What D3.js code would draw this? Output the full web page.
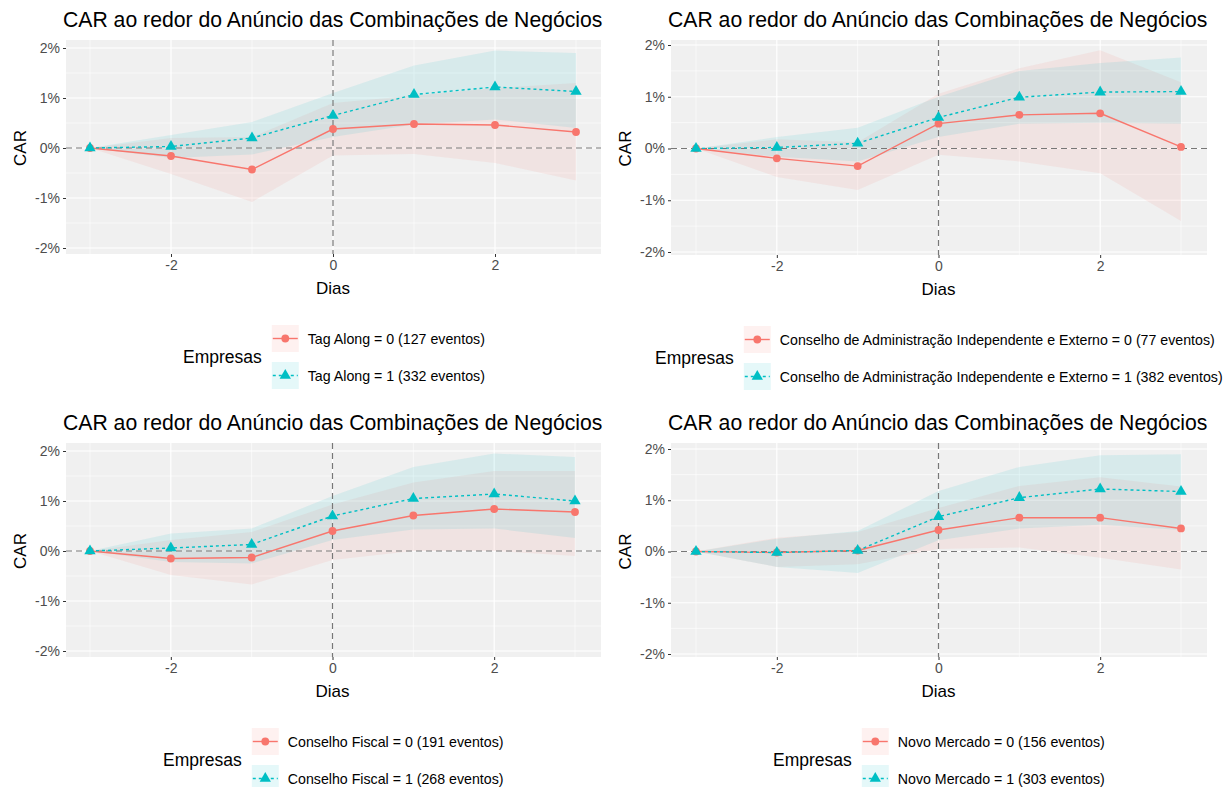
<!DOCTYPE html>
<html lang="pt">
<head>
<meta charset="UTF-8">
<title>CAR ao redor do Anúncio das Combinações de Negócios</title>
<script src="https://cdnjs.cloudflare.com/ajax/libs/d3/7.8.5/d3.min.js"></script>
<style>
  body { margin: 0; background: #fff; }
  svg { display: block; font-family: "Liberation Sans", Arial, sans-serif; }
</style>
</head>
<body>
<svg id="chart" width="1226" height="787"></svg>
<script>
// dias relativos ao anúncio
const days = [-3, -2, -1, 0, 1, 2, 3];
const xTicks = [-2, 0, 2];
const xMinor = [-3, -1, 1, 3];
const yTicks = [-0.02, -0.01, 0, 0.01, 0.02];
const yMinor = [-0.015, -0.005, 0.005, 0.015];
const chartTitle = "CAR ao redor do Anúncio das Combinações de Negócios";
const legendTitle = "Empresas";

// Tag Along
const tagCar0 = [0, -0.0016, -0.0043, 0.0038, 0.0048, 0.0046, 0.0032];
const tagLo0  = [0, -0.0052, -0.0108, -0.0015, -0.0012, -0.0030, -0.0065];
const tagHi0  = [0, 0.0020, 0.0022, 0.0090, 0.0105, 0.0120, 0.0130];
const tagCar1 = [0, 0.0003, 0.0020, 0.0065, 0.0107, 0.0122, 0.0113];
const tagLo1  = [0, -0.0020, -0.0013, 0.0022, 0.0047, 0.0057, 0.0040];
const tagHi1  = [0, 0.0026, 0.0052, 0.0110, 0.0165, 0.0195, 0.0190];

// Conselho de Administração Independente e Externo
const admCar0 = [0, -0.0019, -0.0034, 0.0048, 0.0065, 0.0068, 0.0003];
const admLo0  = [0, -0.0055, -0.0080, -0.0012, -0.0025, -0.0048, -0.0140];
const admHi0  = [0, 0.0018, 0.0012, 0.0106, 0.0155, 0.0190, 0.0128];
const admCar1 = [0, 0.0002, 0.0010, 0.0060, 0.0099, 0.0109, 0.0110];
const admLo1  = [0, -0.0016, -0.0025, 0.0022, 0.0048, 0.0050, 0.0048];
const admHi1  = [0, 0.0022, 0.0040, 0.0100, 0.0150, 0.0165, 0.0176];

// Conselho Fiscal
const fisCar0 = [0, -0.0015, -0.0013, 0.0040, 0.0071, 0.0084, 0.0078];
const fisLo0  = [0, -0.0048, -0.0067, -0.0018, 0.0000, 0.0000, -0.0010];
const fisHi0  = [0, 0.0022, 0.0038, 0.0093, 0.0137, 0.0160, 0.0160];
const fisCar1 = [0, 0.0006, 0.0013, 0.0070, 0.0105, 0.0114, 0.0100];
const fisLo1  = [0, -0.0022, -0.0025, 0.0022, 0.0043, 0.0045, 0.0026];
const fisHi1  = [0, 0.0035, 0.0045, 0.0110, 0.0168, 0.0195, 0.0188];

// Novo Mercado
const nmCar0 = [0, -0.0002, 0.0002, 0.0042, 0.0066, 0.0066, 0.0045];
const nmLo0  = [0, -0.0030, -0.0025, 0.0005, 0.0008, -0.0012, -0.0035];
const nmHi0  = [0, 0.0027, 0.0038, 0.0085, 0.0128, 0.0145, 0.0127];
const nmCar1 = [0, -0.0002, 0.0002, 0.0068, 0.0105, 0.0122, 0.0117];
const nmLo1  = [0, -0.0030, -0.0042, 0.0022, 0.0045, 0.0052, 0.0042];
const nmHi1  = [0, 0.0025, 0.0040, 0.0118, 0.0165, 0.0188, 0.0190];

const panels = [
  { labels: ["Tag Along = 0 (127 eventos)", "Tag Along = 1 (332 eventos)"],
    g0: [tagCar0, tagLo0, tagHi0], g1: [tagCar1, tagLo1, tagHi1],
    box: { l: 66, r: 601, t: 40, b: 254, x3: 90, x3r: 576, y2: 48, y2b: 248 } },
  { labels: ["Conselho de Administração Independente e Externo = 0 (77 eventos)",
             "Conselho de Administração Independente e Externo = 1 (382 eventos)"],
    g0: [admCar0, admLo0, admHi0], g1: [admCar1, admLo1, admHi1],
    box: { l: 671, r: 1207, t: 40, b: 255, x3: 696, x3r: 1181, y2: 45, y2b: 252 } },
  { labels: ["Conselho Fiscal = 0 (191 eventos)", "Conselho Fiscal = 1 (268 eventos)"],
    g0: [fisCar0, fisLo0, fisHi0], g1: [fisCar1, fisLo1, fisHi1],
    box: { l: 66, r: 601, t: 443, b: 657, x3: 90, x3r: 575, y2: 451, y2b: 651 } },
  { labels: ["Novo Mercado = 0 (156 eventos)", "Novo Mercado = 1 (303 eventos)"],
    g0: [nmCar0, nmLo0, nmHi0], g1: [nmCar1, nmLo1, nmHi1],
    box: { l: 671, r: 1207, t: 443, b: 657, x3: 696, x3r: 1181, y2: 449, y2b: 654 } }
];

const red = "#F8766D", teal = "#00BFC4";
const svg = d3.select("#chart");
const minus = s => s.replace("\u2212", "-");
const pct = v => minus(d3.format(".0%")(v));
const sym = k => d3.symbol(k === 0 ? d3.symbolCircle : d3.symbolTriangle, k === 0 ? 48 : 56);

function drawPanel(p) {
  const b = p.box;
  const x = d3.scaleLinear().domain([-3, 3]).range([b.x3, b.x3r]);
  const y = d3.scaleLinear().domain([-0.02, 0.02]).range([b.y2b, b.y2]);
  const g = svg.append("g");

  g.append("text")
    .attr("x", b.l - 3).attr("y", b.t - 13)
    .attr("font-size", 21.2).attr("fill", "#000")
    .text(chartTitle);

  g.append("rect")
    .attr("x", b.l).attr("y", b.t)
    .attr("width", b.r - b.l).attr("height", b.b - b.t)
    .attr("fill", "#F0F0F0");

  // grade
  g.selectAll(".ymin").data(yMinor).join("line")
    .attr("x1", b.l).attr("x2", b.r).attr("y1", d => y(d)).attr("y2", d => y(d))
    .attr("stroke", "#fff").attr("stroke-width", 0.6);
  g.selectAll(".xmin").data(xMinor).join("line")
    .attr("y1", b.t).attr("y2", b.b).attr("x1", d => x(d)).attr("x2", d => x(d))
    .attr("stroke", "#fff").attr("stroke-width", 0.6);
  g.selectAll(".ymaj").data(yTicks).join("line")
    .attr("x1", b.l).attr("x2", b.r).attr("y1", d => y(d)).attr("y2", d => y(d))
    .attr("stroke", "#fff").attr("stroke-width", 1.2);
  g.selectAll(".xmaj").data(xTicks).join("line")
    .attr("y1", b.t).attr("y2", b.b).attr("x1", d => x(d)).attr("x2", d => x(d))
    .attr("stroke", "#fff").attr("stroke-width", 1.2);

  const area = d3.area().x((d, i) => x(days[i])).y0(d => y(d[0])).y1(d => y(d[1]));
  const line = d3.line().x((d, i) => x(days[i])).y(d => y(d));
  const groups = [
    { s: p.g0, c: red, dash: null },
    { s: p.g1, c: teal, dash: "3,3" }
  ];

  groups.forEach(gr => {
    g.append("path")
      .datum(d3.zip(gr.s[1], gr.s[2]))
      .attr("d", area)
      .attr("fill", gr.c).attr("fill-opacity", 0.1);
  });

  // linhas de referência
  g.append("line")
    .attr("x1", b.l).attr("x2", b.r).attr("y1", y(0)).attr("y2", y(0))
    .attr("stroke", "#777").attr("stroke-width", 1.2).attr("stroke-dasharray", "6,4");
  g.append("line")
    .attr("x1", x(0)).attr("x2", x(0)).attr("y1", b.t).attr("y2", b.b)
    .attr("stroke", "#777").attr("stroke-width", 1.2).attr("stroke-dasharray", "6,4");

  groups.forEach((gr, k) => {
    g.append("path")
      .datum(gr.s[0])
      .attr("d", line)
      .attr("fill", "none").attr("stroke", gr.c).attr("stroke-width", 1.4)
      .attr("stroke-dasharray", gr.dash);
    g.selectAll(null).data(gr.s[0]).join("path")
      .attr("transform", (d, i) => `translate(${x(days[i])},${y(d)})`)
      .attr("d", sym(k))
      .attr("fill", gr.c);
  });

  // eixos
  const ya = g.append("g").attr("transform", `translate(${b.l},0)`)
    .call(d3.axisLeft(y).tickValues(yTicks).tickFormat(pct).tickSize(3).tickPadding(3));
  const xa = g.append("g").attr("transform", `translate(0,${b.b})`)
    .call(d3.axisBottom(x).tickValues(xTicks).tickFormat(d => minus(String(d))).tickSize(3).tickPadding(3));
  [ya, xa].forEach(a => {
    a.select(".domain").remove();
    a.selectAll(".tick line").attr("stroke", "#333");
    a.selectAll(".tick text").attr("fill", "#4D4D4D").attr("font-size", 14)
      .attr("font-family", "Liberation Sans, Arial, sans-serif");
  });

  g.append("text")
    .attr("x", x(0)).attr("y", b.b + 40)
    .attr("text-anchor", "middle").attr("font-size", 17)
    .text("Dias");
  g.append("text")
    .attr("transform", `translate(${b.l - 40},${y(0)}) rotate(-90)`)
    .attr("text-anchor", "middle").attr("font-size", 17)
    .text("CAR");

  // legenda
  const lg = g.append("g");
  const lt = lg.append("text").attr("font-size", 17.5).attr("dy", "0.35em").text(legendTitle);
  const tw = lt.node().getComputedTextLength();
  const labs = p.labels.map((t, k) =>
    lg.append("text").attr("font-size", 14.2).attr("dy", "0.35em").text(t));
  const lw = d3.max(labs, l => l.node().getComputedTextLength());
  const total = tw + 10 + 27 + 9 + lw;
  const cx = (b.l + b.r) / 2;
  const x0 = Math.round(cx - total / 2);
  const ky = b.b + 71;
  lt.attr("x", x0).attr("y", ky + 32);
  groups.forEach((gr, k) => {
    const kx = x0 + tw + 10, top = ky + k * 37;
    lg.append("rect").attr("x", kx).attr("y", top).attr("width", 27).attr("height", 27)
      .attr("fill", gr.c).attr("fill-opacity", 0.1);
    lg.append("line").attr("x1", kx + 1).attr("x2", kx + 26)
      .attr("y1", top + 13.5).attr("y2", top + 13.5)
      .attr("stroke", gr.c).attr("stroke-width", 1.4).attr("stroke-dasharray", gr.dash);
    lg.append("path").attr("transform", `translate(${kx + 13.5},${top + 13.5})`)
      .attr("d", sym(k))
      .attr("fill", gr.c);
    labs[k].attr("x", kx + 27 + 9).attr("y", top + 14);
  });
}

panels.forEach(drawPanel);
</script>
</body>
</html>
